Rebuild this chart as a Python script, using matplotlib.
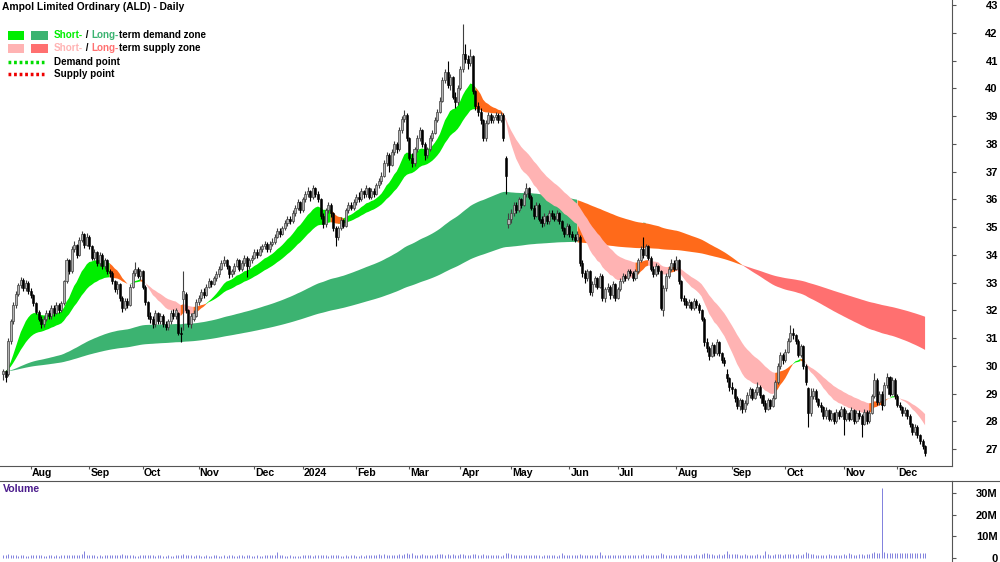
import numpy as np
import pandas as pd
import matplotlib
matplotlib.use("Agg")
import matplotlib.pyplot as plt
from matplotlib.patches import Rectangle
from matplotlib.lines import Line2D

plt.rcParams['font.family'] = ['Liberation Sans', 'DejaVu Sans']

title = "Ampol Limited Ordinary (ALD) - Daily"
holidays = ["2023-12-25", "2023-12-26", "2024-01-01", "2024-01-26", "2024-03-29",
            "2024-04-01", "2024-04-25", "2024-06-10"]

# daily OHLC (AUD)
close = [
    29.8, 29.6, 30.9, 31.6, 32.2, 32.6, 32.9, 33.1, 32.8, 33.0,
    32.7, 32.55, 32.25, 31.95, 31.7, 31.5, 31.7, 31.9, 31.8, 32.1,
    31.9, 32.2, 32.0, 32.25, 33.05, 33.8, 33.4, 34.2, 34.35, 34.0,
    34.55, 34.75, 34.35, 34.65, 34.3, 33.9, 34.1, 33.7, 34.0, 33.6,
    33.8, 33.4, 33.35, 33.05, 32.75, 32.95, 32.45, 32.1, 32.35, 32.2,
    32.85, 33.35, 33.5, 33.25, 33.4, 32.85, 32.3, 31.8, 31.7, 31.5,
    31.9, 31.6, 31.8, 31.5, 31.4, 31.6, 31.9, 31.8, 32.0, 31.2,
    31.15, 32.7, 32.0, 31.5, 31.8, 31.9, 32.3, 32.45, 32.65, 32.55,
    32.85, 33.05, 32.95, 33.15, 33.3, 33.5, 33.7, 33.8, 33.6, 33.3,
    33.4, 33.6, 33.8, 33.5, 33.7, 33.9, 33.6, 33.8, 33.9, 34.1,
    34.0, 34.2, 34.3, 34.4, 34.2, 34.4, 34.45, 34.65, 34.85, 34.75,
    34.95, 35.15, 35.3, 35.2, 35.5, 35.7, 35.9, 35.6, 36.0, 36.2,
    36.3, 36.1, 36.4, 36.2, 36.0, 35.4, 35.1, 35.6, 35.8, 35.5,
    34.95, 34.65, 34.95, 35.25, 35.05, 35.6, 35.8, 35.7, 35.9, 36.1,
    36.0, 36.3, 36.2, 36.4, 36.1, 36.3, 36.2, 36.5, 36.65, 36.85,
    37.3, 37.6, 37.25, 37.7, 38.0, 37.8, 38.5, 38.9, 39.05, 38.2,
    37.5, 37.3, 37.8, 38.2, 38.5, 38.0, 37.6, 37.8, 38.2, 38.4,
    38.85, 39.15, 39.55, 40.3, 40.6, 40.1, 40.4, 39.7, 39.5, 40.0,
    40.7, 41.25, 41.05, 40.9, 41.15, 39.9, 39.35, 39.15, 38.85, 38.2,
    38.75, 39.05, 38.85, 38.95, 39.05, 38.85, 39.05, 38.2, 36.85, 35.3,
    35.5, 35.8, 35.6, 36.0, 35.8, 36.2, 36.4, 36.1, 35.7, 35.4,
    35.8, 35.3, 35.15, 35.4, 35.2, 35.5, 35.4, 35.3, 35.5, 35.2,
    34.95, 34.75, 35.05, 34.75, 34.65, 34.55, 34.75, 33.7, 33.35, 33.15,
    33.4, 32.65, 32.95, 33.15, 32.85, 33.25, 32.45, 32.75, 32.85, 32.55,
    32.95, 32.45, 32.75, 33.05, 33.25, 33.15, 33.4, 33.35, 33.15, 33.4,
    33.8, 34.2, 34.0, 34.3, 33.9, 33.5, 33.3, 33.6, 33.4, 32.1,
    32.8, 33.25, 33.5, 33.7, 33.5, 33.8, 33.05, 32.45, 32.35, 32.2,
    32.3, 32.1, 32.35, 32.2, 32.0, 31.7, 30.85, 30.65, 30.35, 30.75,
    30.45, 30.85, 30.45, 30.2, 30.1, 29.55, 29.25, 29.15, 28.85, 28.55,
    28.75, 28.45, 28.65, 28.95, 29.15, 28.85, 29.05, 29.25, 28.95, 28.65,
    28.45, 28.75, 28.55, 28.85, 29.4, 30.0, 30.4, 30.2, 30.5, 30.9,
    31.2, 31.1, 30.9, 30.4, 30.7, 30.0, 29.4, 28.3, 28.9, 29.1,
    28.8, 28.6, 28.5, 28.2, 28.4, 28.1, 28.3, 28.0, 28.35, 28.2,
    28.45, 28.1, 28.3, 28.1, 28.4, 28.0, 28.3, 28.2, 27.9, 28.35,
    28.0, 28.3, 28.9, 29.5, 28.7, 29.0, 28.6, 29.3, 29.6, 29.0,
    29.5, 28.9, 28.6, 28.5, 28.3, 28.4, 28.2, 27.9, 27.6, 27.8,
    27.5, 27.3, 27.1, 26.85,
]
open_ = [
    29.7, 29.8, 29.7, 30.9, 31.6, 32.2, 32.6, 32.9, 33.1, 32.8,
    33.0, 32.7, 32.55, 32.25, 31.95, 31.7, 31.5, 31.7, 31.9, 31.8,
    32.1, 31.9, 32.2, 32.0, 32.25, 33.05, 33.8, 33.4, 34.2, 34.35,
    34.0, 34.55, 34.75, 34.35, 34.65, 34.3, 33.9, 34.1, 33.7, 34.0,
    33.6, 33.8, 33.4, 33.35, 33.05, 32.75, 32.95, 32.45, 32.1, 32.35,
    32.2, 32.85, 33.35, 33.5, 33.25, 33.4, 32.85, 32.3, 31.8, 31.7,
    31.5, 31.9, 31.6, 31.8, 31.5, 31.4, 31.6, 31.9, 31.8, 31.9,
    31.2, 32.4, 32.6, 32.0, 31.5, 31.7, 31.8, 32.3, 32.45, 32.65,
    32.55, 32.85, 33.05, 32.95, 33.15, 33.3, 33.5, 33.7, 33.8, 33.6,
    33.3, 33.4, 33.6, 33.8, 33.5, 33.7, 33.9, 33.6, 33.8, 33.9,
    34.1, 34.0, 34.2, 34.3, 34.4, 34.2, 34.4, 34.45, 34.65, 34.85,
    34.75, 34.95, 35.15, 35.3, 35.2, 35.5, 35.7, 35.9, 35.6, 36.0,
    36.2, 36.3, 36.1, 36.4, 36.2, 36.0, 35.4, 35.1, 35.6, 35.8,
    35.5, 34.95, 34.65, 34.95, 35.25, 35.05, 35.6, 35.8, 35.7, 35.9,
    36.1, 36.0, 36.3, 36.2, 36.4, 36.1, 36.3, 36.2, 36.5, 36.65,
    36.85, 37.3, 37.6, 37.25, 37.7, 38.0, 37.8, 38.5, 38.9, 39.05,
    38.2, 37.5, 37.3, 37.8, 38.2, 38.5, 38.0, 37.6, 37.8, 38.2,
    38.4, 38.85, 39.15, 39.55, 40.3, 40.6, 40.1, 40.4, 39.7, 39.5,
    40.0, 40.7, 41.25, 41.05, 40.9, 41.15, 39.9, 39.35, 39.15, 38.85,
    38.2, 38.75, 39.05, 38.85, 38.95, 39.05, 38.85, 39.05, 37.5, 35.1,
    35.3, 35.5, 35.8, 35.6, 36.0, 35.8, 36.2, 36.4, 36.1, 35.7,
    35.4, 35.8, 35.3, 35.15, 35.4, 35.2, 35.5, 35.4, 35.3, 35.5,
    35.2, 34.95, 34.75, 35.05, 34.75, 34.65, 34.55, 34.65, 33.7, 33.35,
    33.15, 33.4, 32.65, 32.95, 33.15, 32.85, 33.25, 32.45, 32.75, 32.85,
    32.55, 32.95, 32.45, 32.75, 33.05, 33.25, 33.15, 33.4, 33.35, 33.15,
    33.4, 33.8, 34.2, 34.0, 34.3, 33.9, 33.5, 33.3, 33.6, 33.4,
    32.0, 32.8, 33.25, 33.5, 33.7, 33.5, 33.8, 33.05, 32.45, 32.35,
    32.2, 32.3, 32.1, 32.35, 32.2, 32.0, 31.7, 30.85, 30.65, 30.35,
    30.75, 30.45, 30.85, 30.45, 30.2, 29.7, 29.55, 29.25, 29.15, 28.85,
    28.55, 28.75, 28.45, 28.65, 28.95, 29.15, 28.85, 29.05, 29.25, 28.95,
    28.65, 28.45, 28.75, 28.55, 28.85, 29.4, 30.0, 30.4, 30.2, 30.5,
    30.9, 31.2, 31.1, 30.9, 30.4, 30.7, 30.0, 29.2, 28.3, 28.9,
    29.1, 28.8, 28.6, 28.5, 28.2, 28.4, 28.1, 28.3, 28.0, 28.35,
    28.2, 28.45, 28.1, 28.3, 28.1, 28.4, 28.0, 28.3, 28.2, 27.9,
    28.35, 28.0, 28.3, 28.9, 29.5, 28.7, 29.0, 28.6, 29.3, 29.6,
    29.0, 29.5, 28.9, 28.6, 28.5, 28.3, 28.4, 28.2, 27.9, 27.6,
    27.8, 27.5, 27.3, 27.1,
]
high = [
    29.9, 29.85, 31.0, 31.7, 32.3, 32.7, 33.0, 33.2, 33.15, 33.1,
    33.05, 32.8, 32.6, 32.3, 32.0, 31.8, 31.8, 32.0, 32.0, 32.2,
    32.2, 32.3, 32.25, 32.35, 33.1, 33.9, 33.85, 34.3, 34.5, 34.4,
    34.65, 34.85, 34.8, 34.8, 34.7, 34.35, 34.2, 34.15, 34.1, 34.05,
    33.9, 33.85, 33.5, 33.4, 33.1, 33.05, 33.0, 32.5, 32.45, 32.45,
    32.95, 33.45, 33.75, 33.55, 33.5, 33.45, 32.9, 32.35, 31.95, 31.8,
    32.0, 31.95, 31.9, 31.85, 31.6, 31.7, 32.0, 32.05, 32.1, 31.95,
    31.4, 33.4, 32.65, 32.05, 31.9, 32.0, 32.4, 32.55, 32.75, 32.8,
    32.95, 33.15, 33.1, 33.25, 33.4, 33.6, 33.8, 33.95, 33.85, 33.65,
    33.5, 33.7, 33.9, 33.85, 33.8, 34.0, 33.95, 33.9, 34.0, 34.2,
    34.2, 34.3, 34.4, 34.5, 34.45, 34.5, 34.6, 34.75, 34.95, 34.95,
    35.05, 35.25, 35.4, 35.4, 35.6, 35.8, 36.0, 35.95, 36.1, 36.3,
    36.45, 36.35, 36.5, 36.45, 36.3, 36.05, 35.5, 35.7, 35.9, 35.85,
    35.55, 35.05, 35.05, 35.35, 35.3, 35.7, 35.9, 35.9, 36.0, 36.2,
    36.25, 36.4, 36.35, 36.5, 36.45, 36.4, 36.4, 36.6, 36.75, 37.0,
    37.4, 37.7, 37.65, 37.8, 38.1, 38.05, 38.6, 39.0, 39.2, 39.1,
    38.25, 37.65, 37.9, 38.3, 38.6, 38.55, 38.05, 37.9, 38.3, 38.5,
    38.95, 39.25, 39.7, 40.4, 40.7, 41.0, 40.5, 40.45, 39.85, 40.1,
    40.8, 42.3, 41.6, 41.2, 41.4, 41.2, 39.95, 39.5, 39.3, 38.9,
    38.85, 39.15, 39.1, 39.05, 39.15, 39.1, 39.15, 39.1, 37.55, 35.5,
    35.65, 35.9, 35.9, 36.1, 36.05, 36.3, 36.6, 36.45, 36.15, 35.8,
    35.9, 35.85, 35.4, 35.5, 35.45, 35.6, 35.6, 35.5, 35.6, 35.55,
    35.25, 35.0, 35.15, 35.1, 34.85, 34.75, 34.85, 34.7, 33.8, 33.45,
    33.5, 33.45, 33.05, 33.25, 33.2, 33.35, 33.3, 32.85, 33.0, 32.9,
    33.05, 33.0, 32.85, 33.15, 33.35, 33.3, 33.5, 33.5, 33.4, 33.5,
    33.9, 34.3, 34.65, 34.4, 34.35, 33.95, 33.6, 33.7, 33.65, 33.45,
    32.9, 33.35, 33.6, 33.85, 33.8, 33.95, 33.85, 33.1, 32.55, 32.45,
    32.4, 32.35, 32.45, 32.4, 32.25, 32.05, 31.75, 31.0, 30.7, 30.85,
    30.8, 30.95, 30.9, 30.5, 30.3, 29.9, 29.6, 29.4, 29.2, 28.9,
    28.85, 28.8, 28.75, 29.05, 29.25, 29.2, 29.15, 29.4, 29.3, 29.0,
    28.75, 28.85, 28.8, 28.95, 29.5, 30.1, 30.5, 30.45, 30.6, 31.0,
    31.47, 31.35, 31.15, 30.95, 30.8, 30.75, 30.05, 29.25, 29.2, 29.2,
    29.15, 28.85, 28.7, 28.55, 28.5, 28.45, 28.4, 28.35, 28.45, 28.4,
    28.55, 28.5, 28.4, 28.35, 28.5, 28.45, 28.4, 28.4, 28.25, 28.45,
    28.4, 28.4, 29.0, 29.75, 29.55, 29.1, 29.1, 29.4, 29.75, 29.65,
    29.6, 29.55, 29.0, 28.7, 28.55, 28.5, 28.45, 28.25, 27.95, 27.9,
    27.85, 27.55, 27.35, 27.15,
]
low = [
    29.5, 29.4, 29.65, 30.8, 31.5, 32.1, 32.5, 32.8, 32.7, 32.7,
    32.6, 32.45, 32.15, 31.85, 31.6, 31.35, 31.4, 31.6, 31.7, 31.7,
    31.8, 31.85, 31.9, 31.95, 32.2, 33.0, 33.3, 33.35, 34.1, 33.9,
    33.95, 34.45, 34.25, 34.3, 34.2, 33.8, 33.8, 33.6, 33.6, 33.5,
    33.5, 33.3, 33.2, 32.95, 32.65, 32.6, 32.35, 31.95, 32.0, 32.1,
    32.15, 32.8, 33.25, 33.15, 33.1, 32.75, 32.2, 31.7, 31.55, 31.35,
    31.4, 31.5, 31.5, 31.4, 31.3, 31.3, 31.5, 31.7, 31.7, 31.1,
    30.85, 31.3, 31.9, 31.4, 31.35, 31.6, 31.75, 32.2, 32.35, 32.45,
    32.5, 32.8, 32.85, 32.9, 33.05, 33.2, 33.45, 33.6, 33.5, 33.15,
    33.2, 33.3, 33.55, 33.4, 33.4, 33.6, 33.2, 33.5, 33.7, 33.85,
    33.9, 33.95, 34.1, 34.2, 34.1, 34.1, 34.3, 34.4, 34.6, 34.65,
    34.7, 34.9, 35.05, 35.1, 35.15, 35.4, 35.6, 35.5, 35.55, 35.9,
    36.1, 35.95, 36.0, 36.1, 35.9, 35.3, 34.95, 35.0, 35.5, 35.35,
    34.85, 34.3, 34.55, 34.9, 34.95, 35.0, 35.5, 35.6, 35.6, 35.8,
    35.9, 35.95, 36.05, 36.1, 36.0, 36.0, 36.1, 36.15, 36.4, 36.55,
    36.8, 37.2, 37.0, 37.2, 37.6, 37.65, 37.75, 38.4, 38.8, 38.1,
    37.4, 37.15, 37.2, 37.7, 38.1, 37.9, 37.4, 37.5, 37.75, 38.1,
    38.35, 38.8, 39.1, 39.5, 40.2, 40.0, 39.95, 39.6, 39.3, 39.4,
    39.95, 40.6, 40.9, 40.7, 40.8, 39.8, 39.2, 39.0, 38.7, 38.1,
    38.1, 38.7, 38.75, 38.75, 38.85, 38.75, 38.8, 38.1, 36.2, 34.95,
    35.15, 35.4, 35.5, 35.55, 35.7, 35.75, 36.1, 36.0, 35.6, 35.3,
    35.35, 35.2, 35.0, 35.05, 35.1, 35.1, 35.3, 35.2, 35.2, 35.1,
    34.85, 34.65, 34.7, 34.65, 34.55, 34.45, 34.5, 33.6, 33.2, 33.0,
    33.05, 32.55, 32.5, 32.85, 32.75, 32.8, 32.35, 32.3, 32.65, 32.4,
    32.45, 32.35, 32.4, 32.7, 33.0, 33.05, 33.1, 33.25, 33.05, 33.1,
    33.35, 33.75, 33.9, 33.95, 33.8, 33.4, 33.2, 33.25, 33.3, 32.0,
    31.8, 32.7, 33.15, 33.4, 33.4, 33.45, 32.95, 32.35, 32.2, 32.1,
    32.1, 32.0, 32.0, 32.1, 31.9, 31.6, 30.7, 30.5, 30.2, 30.3,
    30.35, 30.4, 30.35, 30.1, 30.0, 29.4, 29.1, 29.0, 28.7, 28.45,
    28.4, 28.3, 28.35, 28.6, 28.85, 28.75, 28.8, 28.95, 28.85, 28.55,
    28.35, 28.4, 28.45, 28.5, 28.8, 29.35, 29.9, 30.05, 30.15, 30.45,
    30.85, 30.95, 30.8, 30.3, 30.3, 29.9, 29.3, 27.8, 28.2, 28.8,
    28.7, 28.5, 28.35, 28.1, 28.1, 28.0, 28.0, 27.9, 27.95, 28.1,
    28.15, 27.5, 28.0, 28.0, 28.05, 27.9, 27.95, 28.1, 27.45, 27.85,
    27.9, 27.95, 28.25, 28.85, 28.6, 28.6, 28.4, 28.55, 29.2, 28.9,
    28.95, 28.8, 28.5, 28.4, 28.2, 28.2, 28.1, 27.8, 27.5, 27.5,
    27.4, 27.2, 27.0, 26.75,
]
# daily volume, millions of shares
volume = [
    1.4, 1.2, 1.8, 1.5, 1.3, 1.2, 1.1, 1.3, 1.2, 1.0,
    1.1, 1.3, 1.2, 1.4, 1.5, 1.2, 1.1, 1.0, 1.2, 1.3,
    1.1, 1.2, 1.0, 1.3, 1.6, 1.5, 1.3, 1.2, 1.4, 1.3,
    1.5, 1.7, 3.2, 1.6, 1.4, 1.2, 1.3, 1.1, 1.2, 1.0,
    1.3, 1.2, 1.4, 1.3, 1.5, 1.2, 1.6, 1.8, 1.4, 1.3,
    1.2, 1.3, 1.1, 1.0, 1.2, 1.4, 1.6, 1.5, 1.3, 1.2,
    1.1, 1.3, 1.2, 1.0, 1.1, 1.2, 1.0, 1.1, 1.3, 1.5,
    1.4, 2.0, 1.5, 1.3, 1.2, 1.1, 1.3, 1.2, 1.0, 1.1,
    1.2, 1.0, 1.1, 1.3, 1.2, 1.1, 1.0, 1.2, 1.1, 1.3,
    1.2, 1.1, 1.0, 1.2, 1.3, 1.1, 1.4, 1.2, 1.0, 1.1,
    1.2, 1.1, 1.0, 1.3, 1.2, 1.4, 1.6, 1.5, 2.8, 1.3,
    1.2, 1.1, 1.0, 1.2, 1.1, 1.0, 0.9, 1.1, 1.3, 1.2,
    1.4, 1.2, 1.1, 1.3, 1.2, 1.5, 1.4, 1.2, 1.1, 1.3,
    1.5, 1.4, 1.2, 1.1, 1.0, 1.2, 1.1, 1.3, 1.2, 1.1,
    1.0, 1.2, 1.1, 1.3, 1.2, 1.4, 1.3, 1.5, 1.7, 1.6,
    1.8, 1.5, 1.4, 1.6, 1.3, 1.5, 1.7, 1.6, 1.9, 2.2,
    1.8, 2.3, 1.6, 1.5, 1.4, 1.7, 1.5, 1.3, 1.4, 1.6,
    1.5, 1.7, 1.8, 2.0, 1.6, 1.8, 1.5, 1.7, 1.6, 1.4,
    1.7, 2.0, 1.6, 1.5, 1.4, 1.9, 1.7, 1.5, 1.6, 1.8,
    1.4, 1.3, 1.2, 1.4, 1.3, 1.2, 1.1, 1.6, 2.4, 2.2,
    1.8, 1.5, 1.4, 1.3, 1.2, 1.4, 1.5, 1.3, 1.4, 1.2,
    1.3, 1.2, 1.1, 1.3, 1.2, 1.4, 1.3, 1.2, 1.1, 1.5,
    2.5, 1.4, 1.3, 1.2, 1.3, 1.4, 1.2, 1.9, 1.6, 1.4,
    1.3, 1.6, 1.4, 1.3, 1.5, 2.8, 1.6, 1.4, 1.3, 1.2,
    1.4, 1.3, 1.2, 1.3, 1.4, 1.2, 1.3, 1.4, 1.2, 1.3,
    1.5, 1.6, 1.7, 1.4, 1.3, 1.5, 1.4, 1.3, 1.5, 2.5,
    1.9, 1.6, 1.4, 1.3, 1.5, 1.4, 1.6, 1.8, 1.5, 1.4,
    1.3, 1.4, 1.5, 1.7, 1.6, 1.8, 2.2, 2.5, 2.0, 1.8,
    1.6, 1.5, 1.7, 1.6, 1.8, 3.0, 2.0, 1.8, 1.9, 1.7,
    1.6, 1.5, 1.7, 1.6, 1.4, 1.5, 1.6, 1.7, 1.5, 1.6,
    3.0, 1.8, 1.6, 1.5, 1.7, 1.9, 1.8, 1.6, 1.7, 1.8,
    2.0, 1.7, 1.6, 1.8, 1.5, 1.9, 2.8, 2.4, 1.9, 1.7,
    1.6, 1.5, 1.4, 1.6, 1.5, 1.7, 1.6, 1.5, 1.4, 1.6,
    1.5, 1.7, 1.6, 2.5, 1.8, 1.6, 1.5, 1.7, 1.9, 1.6,
    1.7, 1.8, 2.5, 2.6, 2.3, 2.2, 32.5, 2.6, 2.4, 2.3,
    2.5, 2.3, 2.4, 2.2, 2.3, 2.5, 2.2, 2.4, 2.3, 2.2,
    2.4, 2.3, 2.5, 2.4,
]

# EMA spans for the short- and long-term zones
SHORT = (15, 32)
LONG = (150, 300)

C_SHORT_UP = "#00ee00"
C_LONG_UP = "#3cb371"
C_SHORT_DN = "#ffb3b3"
C_LONG_DN = "#ff7070"
C_ORANGE = "#ff6a1a"

close = np.array(close)
open_ = np.array(open_)
high = np.array(high)
low = np.array(low)
volume = np.array(volume)
n = len(close)
x = np.arange(n)
dates = pd.bdate_range("2023-07-17", "2024-12-31", freq="C", holidays=holidays)[:n]


def ema(v, span):
    return pd.Series(v).ewm(span=span, adjust=False).mean().to_numpy()


def draw_zone(ax, fast, slow, up_col, dn_col, z):
    lo = np.minimum(fast, slow)
    hi = np.maximum(fast, slow)
    up = fast >= slow
    state = np.where(up, np.where(close < lo, 2, 0), np.where(close > hi, 2, 1))
    for k, c in ((0, up_col), (1, dn_col), (2, C_ORANGE)):
        m = state == k
        m2 = m.copy()
        m2[:-1] |= m[1:]
        ax.fill_between(x, lo, hi, where=m2, color=c, lw=0, zorder=z)


fig = plt.figure(figsize=(10, 5.62), dpi=100)
ax = fig.add_axes([0, 1 - 466 / 562, 0.952, 466 / 562])
axv = fig.add_axes([0, 0, 0.952, 81 / 562])

draw_zone(ax, ema(close, LONG[0]), ema(close, LONG[1]), C_LONG_UP, C_LONG_DN, 1)
draw_zone(ax, ema(close, SHORT[0]), ema(close, SHORT[1]), C_SHORT_UP, C_SHORT_DN, 2)

# candles
up = close >= open_
ax.vlines(x, low, high, colors=np.where(up, "#404040", "#000000"), lw=0.8, zorder=3)
bot = np.minimum(open_, close)
h = np.maximum(np.abs(close - open_), 0.03)
ax.bar(x[up], h[up], bottom=bot[up], width=0.8, color="#b4b4b4",
       edgecolor="#404040", lw=0.5, zorder=4)
ax.bar(x[~up], h[~up], bottom=bot[~up], width=0.8, color="#000000",
       edgecolor="#000000", lw=0.4, zorder=4)

xl = (-1.18, 373.6)
ax.set_xlim(xl)
ax.set_ylim(26.39, 43.18)
for s in ("top", "left"):
    ax.spines[s].set_visible(False)
for s in ("right", "bottom"):
    ax.spines[s].set_color("#555555")

ax.yaxis.tick_right()
ax.set_yticks(range(27, 44))
ax.tick_params(axis="y", direction="out", length=3, pad=30, labelsize=8, color="#555555")
plt.setp(ax.get_yticklabels(), ha="right", fontweight="bold")

# month ticks
mpos = [i for i in range(1, n) if dates[i].month != dates[i - 1].month]
ax.set_xticks(mpos)
ax.tick_params(axis="x", direction="out", length=2, labelbottom=False, color="#555555")
for i in mpos:
    lab = str(dates[i].year) if dates[i].month == 1 else dates[i].strftime("%b")
    ax.annotate(lab, xy=(i, 0), xycoords=("data", "axes fraction"), xytext=(0.8, -1.5),
                textcoords="offset points", ha="left", va="top", fontsize=7.6,
                fontweight="bold", annotation_clip=False)

# volume panel
axv.vlines(x, 0, volume, colors="#8080dd", lw=0.7)
axv.set_xlim(xl)
axv.set_ylim(-1.85, 35.5)
axv.set_xticks([])
for s in ("bottom", "left"):
    axv.spines[s].set_visible(False)
for s in ("right", "top"):
    axv.spines[s].set_color("#555555")
axv.yaxis.tick_right()
axv.set_yticks([0, 10, 20, 30])
axv.set_yticklabels(["0", "10M", "20M", "30M"])
axv.tick_params(axis="y", direction="out", length=3, pad=30, labelsize=8, color="#555555")
plt.setp(axv.get_yticklabels(), ha="right", fontweight="bold")
axv.text(0.003, 0.9, "Volume", transform=axv.transAxes, color="#4b1c8c",
         fontsize=7.6, fontweight="bold", va="center", ha="left")
fig.add_artist(Line2D([0.952, 1], [81 / 562] * 2, color="#555555", lw=0.8,
                      transform=fig.transFigure))

# title and legend
fig.text(2 / 1000, 1 - 7 / 562, title, fontsize=7.4, fontweight="bold",
         va="center", ha="left")


def px(xp, yp):
    return xp / 1000, 1 - yp / 562


for yc, c1, c2 in ((35, C_SHORT_UP, C_LONG_UP), (48, C_SHORT_DN, C_LONG_DN)):
    for x0, x1, c in ((8, 24, c1), (31, 48, c2)):
        fig.add_artist(Rectangle(px(x0, yc + 4.5), (x1 - x0) / 1000, 9 / 562,
                                 color=c, lw=0, transform=fig.transFigure))

for yc, c in ((62, "#00dd00"), (74, "#ee0000")):
    fig.add_artist(Line2D([8 / 1000, 44 / 1000], [1 - yc / 562] * 2, color=c, lw=2.5,
                          linestyle=(0, (0.8, 0.8)), transform=fig.transFigure))

rows = [
    (35, [("Short-", C_SHORT_UP), (" / ", "black"), ("Long-", C_LONG_UP),
          ("term demand zone", "black")]),
    (48, [("Short-", C_SHORT_DN), (" / ", "black"), ("Long-", C_LONG_DN),
          ("term supply zone", "black")]),
    (62, [("Demand point", "black")]),
    (74, [("Supply point", "black")]),
]
for yc, parts in rows:
    t = ax.annotate(parts[0][0], xy=px(54, yc), xycoords="figure fraction", color=parts[0][1],
                    fontsize=7.1, fontweight="bold", va="center", ha="left",
                    annotation_clip=False, zorder=10)
    for s, c in parts[1:]:
        t = ax.annotate(s, xy=(1, 0.5), xycoords=t, color=c, fontsize=7.1, fontweight="bold",
                        va="center", ha="left", annotation_clip=False, zorder=10)

fig.savefig("out.png", dpi=100)
